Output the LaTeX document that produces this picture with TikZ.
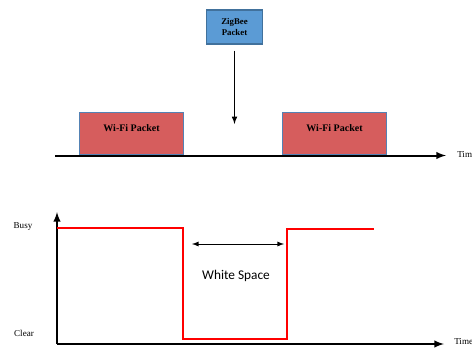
\documentclass[tikz,border=0pt]{standalone}
\usepackage{fontspec}
\setmainfont{Liberation Serif}
\newfontfamily\wsfont{Carlito}
\usepackage{tikz}

\definecolor{zbblue}{RGB}{91,155,213}
\definecolor{zbedge}{RGB}{65,113,156}
\definecolor{wfred}{RGB}{214,93,93}
\definecolor{wfedge}{RGB}{84,130,180}

\tikzset{
  wifibox/.style={draw=wfedge,fill=wfred,line width=0.9pt,minimum width=78pt,minimum height=31.5pt,inner sep=0pt},
  axislabel/.style={font=\fontsize{6.8}{7}\selectfont,inner sep=0pt}
}

\begin{document}
\begin{tikzpicture}[x=0.75pt,y=-0.75pt]
\useasboundingbox (0,0) rectangle (472,347);
\clip (0,0) rectangle (472,347);
% upper part
\node[draw=zbedge,fill=zbblue,line width=0.9pt,minimum width=42.5pt,minimum height=25.5pt,inner sep=0pt,align=center,font=\fontsize{6.6}{7.8}\selectfont\bfseries] (zigbee) at (234.5,27) {ZigBee\\Packet};
\node[wifibox] (wifiA) at (131.5,133.5) {};
\node[wifibox] (wifiB) at (334.5,133.5) {};
\node[font=\fontsize{7.5}{8}\selectfont\bfseries] (wifiAtxt) at (131.5,128) {Wi-Fi Packet};
\node[font=\fontsize{7.5}{8}\selectfont\bfseries] (wifiBtxt) at (334.5,128) {Wi-Fi Packet};
\coordinate (hit) at (234.5,124);
\draw[-latex,line width=0.9pt] ([yshift=-4.5pt]zigbee.south) -- (hit);
\coordinate (t0) at (55,155.5);
\coordinate (t1) at (446,155.5);
\draw[-latex,line width=1.5pt] (t0) -- (t1);
\node[axislabel,anchor=west] (timeA) at (457,155) {Time};
% lower part
\coordinate (o) at (57,344);
\coordinate (ytop) at (57,212);
\coordinate (xend) at (444,344);
\draw[-latex,line width=1.5pt] (o) -- (ytop);
\draw[-latex,line width=1.5pt] (o) -- (xend);
\node[axislabel] (busy) at (23,227) {Busy};
\node[axislabel] (clear) at (24,333) {Clear};
\node[axislabel,anchor=west] (timeB) at (454,342) {Time};
\draw[red,line width=2pt] (57,228) -- (183,228) -- (183,339) -- (287,339) -- (287,229) -- (374,229);
\coordinate (wsL) at (192,244);
\coordinate (wsR) at (284,244);
\draw[latex-latex,line width=0.7pt] (wsL) -- (wsR);
\node[font=\wsfont\fontsize{10}{12}\selectfont] (ws) at (236,276) {White Space};
\end{tikzpicture}
\end{document}
